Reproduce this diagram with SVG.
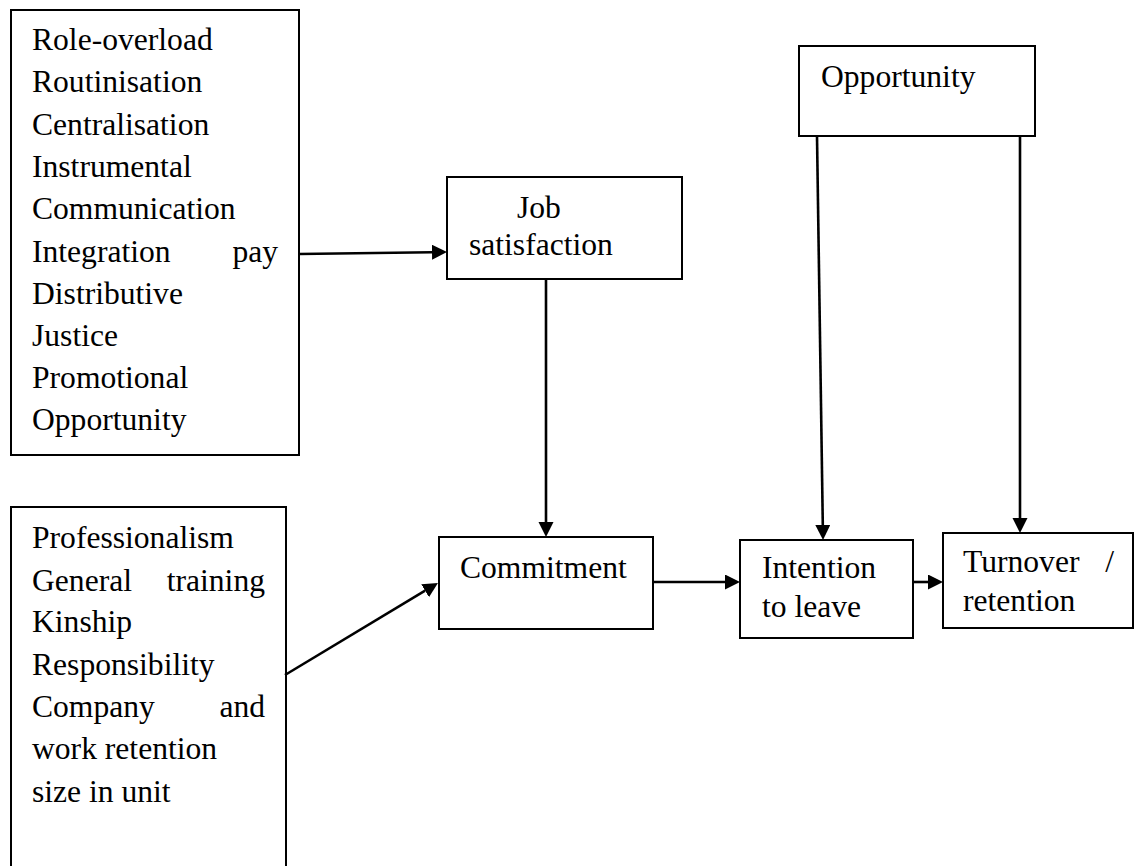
<svg xmlns="http://www.w3.org/2000/svg" width="1138" height="866" viewBox="0 0 1138 866">
  <style>
    .box { fill: #ffffff; stroke: #000000; stroke-width: 2; }
    .lbl { font-family: "Liberation Serif", "Times New Roman", serif; font-size: 31.6px; fill: #000000; }
    .edge { fill: none; stroke: #000000; stroke-width: 2.6; marker-end: url(#head); }
  </style>
  <defs>
    <marker id="head" markerUnits="userSpaceOnUse" markerWidth="16" markerHeight="16" refX="0" refY="7.5" orient="auto">
      <path d="M0,0 L15,7.5 L0,15 z" fill="#000000"/>
    </marker>
  </defs>
  <rect width="1138" height="866" fill="#ffffff"/>

  <!-- organisational determinants -->
  <g id="determinants">
    <rect class="box" x="11" y="10" width="288" height="445"/>
    <text class="lbl" x="32" y="50">Role-overload</text>
    <text class="lbl" x="32" y="92">Routinisation</text>
    <text class="lbl" x="32" y="134.5">Centralisation</text>
    <text class="lbl" x="32" y="176.7">Instrumental</text>
    <text class="lbl" x="32" y="219">Communication</text>
    <text class="lbl" x="32" y="261.5">Integration</text>
    <text class="lbl" x="278" y="261.5" text-anchor="end">pay</text>
    <text class="lbl" x="32" y="303.5">Distributive</text>
    <text class="lbl" x="32" y="345.7">Justice</text>
    <text class="lbl" x="32" y="388">Promotional</text>
    <text class="lbl" x="32" y="430">Opportunity</text>
  </g>

  <!-- individual / structural factors -->
  <g id="factors">
    <rect class="box" x="11" y="507" width="275" height="380"/>
    <text class="lbl" x="32" y="548.3">Professionalism</text>
    <text class="lbl" x="32" y="590.7">General</text>
    <text class="lbl" x="265" y="590.7" text-anchor="end">training</text>
    <text class="lbl" x="32" y="632.3">Kinship</text>
    <text class="lbl" x="32" y="675">Responsibility</text>
    <text class="lbl" x="32" y="716.7">Company</text>
    <text class="lbl" x="265" y="716.7" text-anchor="end">and</text>
    <text class="lbl" x="32" y="759.3">work retention</text>
    <text class="lbl" x="32" y="801.7">size in unit</text>
  </g>

  <g id="job-satisfaction">
    <rect class="box" x="447" y="177" width="235" height="102"/>
    <text class="lbl" x="517" y="218">Job</text>
    <text class="lbl" x="469" y="255">satisfaction</text>
  </g>

  <g id="commitment">
    <rect class="box" x="439" y="537" width="214" height="92"/>
    <text class="lbl" x="460" y="578">Commitment</text>
  </g>

  <g id="opportunity">
    <rect class="box" x="799" y="46" width="236" height="90"/>
    <text class="lbl" x="821" y="87">Opportunity</text>
  </g>

  <g id="intention">
    <rect class="box" x="740" y="540" width="173" height="98"/>
    <text class="lbl" x="762" y="578">Intention</text>
    <text class="lbl" x="762" y="617">to leave</text>
  </g>

  <g id="turnover">
    <rect class="box" x="943" y="533" width="190" height="95"/>
    <text class="lbl" x="963" y="572">Turnover</text>
    <text class="lbl" x="1114" y="572" text-anchor="end">/</text>
    <text class="lbl" x="963" y="611">retention</text>
  </g>

  <!-- connectors: each path ends at the base of its arrowhead -->
  <g id="connectors">
    <path class="edge" d="M299,254 L432,252.2"/>
    <path class="edge" d="M546,279 L546,522"/>
    <path class="edge" d="M285,675 L425.1,590.7"/>
    <path class="edge" d="M653,582 L725,582"/>
    <path class="edge" d="M817,136 L822.8,525"/>
    <path class="edge" d="M1020,136 L1020,518"/>
    <path class="edge" d="M913,582 L928,582"/>
  </g>
</svg>
